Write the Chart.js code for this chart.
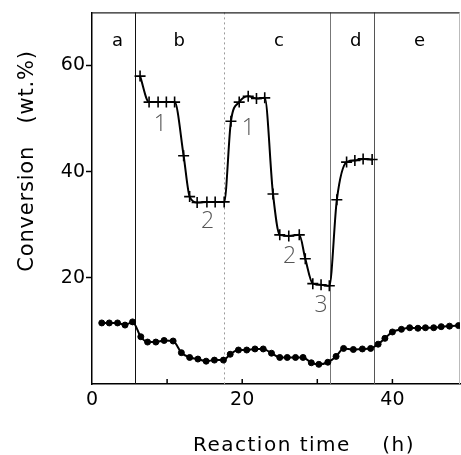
<!DOCTYPE html>
<html>
<head>
<meta charset="utf-8">
<script src="https://cdn.jsdelivr.net/npm/chart.js@4/dist/chart.umd.min.js"></script>
<style>
  html, body { margin: 0; padding: 0; background: #fff; }
  canvas { display: block; }
</style>
</head>
<body>
<canvas id="graf" width="461" height="455"></canvas>
<script>
// upper curve (+ markers): conversion at different stages
const convX = [6.4, 7.6, 8.8, 9.9, 11.0, 12.2, 13.0, 14.0, 15.3, 16.4, 17.6,
               18.5, 19.6, 20.8, 21.9, 23.0, 24.1, 25.0, 26.2, 27.6, 28.4,
               29.4, 30.5, 31.6, 32.6, 33.9, 35.0, 36.1, 37.3];
const convY = [58.0, 53.1, 53.1, 53.1, 53.1, 43.0, 35.3, 34.2, 34.3, 34.3, 34.3,
               49.5, 53.1, 54.2, 53.8, 53.9, 35.8, 28.1, 27.9, 28.1, 23.6,
               18.9, 18.7, 18.5, 34.7, 41.8, 42.1, 42.4, 42.3];

// lower curve (dot markers)
const lowX = [1.3, 2.3, 3.4, 4.4, 5.4, 6.5, 7.4, 8.5, 9.6, 10.8,
              11.9, 13.0, 14.1, 15.2, 16.3, 17.5, 18.4, 19.5, 20.6, 21.7,
              22.8, 23.9, 25.0, 26.0, 27.1, 28.1, 29.2, 30.2, 31.4, 32.5,
              33.5, 34.8, 36.0, 37.1, 38.1, 39.0, 40.0, 41.2, 42.3, 43.4,
              44.4, 45.5, 46.5, 47.6, 48.8];
const lowY = [11.5, 11.5, 11.5, 11.1, 11.7, 8.9, 7.9, 7.9, 8.2, 8.1,
              5.9, 5.0, 4.7, 4.3, 4.5, 4.5, 5.6, 6.4, 6.4, 6.6,
              6.6, 5.8, 5.0, 5.0, 5.0, 5.0, 4.0, 3.7, 4.1, 5.2,
              6.7, 6.5, 6.6, 6.7, 7.5, 8.6, 9.8, 10.3, 10.6, 10.5,
              10.6, 10.6, 10.8, 10.9, 11.0];

// stage boundaries (h) and stage names
const boundaries = [5.7, 17.6, 31.7, 37.6];
const stages = ['a', 'b', 'c', 'd', 'e'];
const stageX = [3.4, 11.6, 24.9, 35.1, 43.6];

// plateau numbers
const plateauTxt = ['1', '2', '1', '2', '3'];
const plateauX = [9.1, 15.4, 20.8, 26.3, 30.5];
const plateauY = [48.9, 30.6, 48.2, 24.0, 14.8];

const xTitle = 'Reaction time    (h)';
const yTitle = 'Conversion   (wt.%)';

const bStyle = [
  { color: '#111', dash: [] },
  { color: '#999', dash: [2, 3] },
  { color: '#777', dash: [] },
  { color: '#555', dash: [] }
];

function line(ctx, x1, y1, x2, y2) {
  ctx.beginPath(); ctx.moveTo(x1, y1); ctx.lineTo(x2, y2); ctx.stroke();
}

const decor = {
  id: 'decor',
  beforeDatasetsDraw(chart) {
    const { ctx, chartArea: a, scales: { x } } = chart;
    ctx.save();
    boundaries.forEach((b, i) => {
      const px = Math.round(x.getPixelForValue(b)) + 0.5;
      ctx.strokeStyle = bStyle[i].color;
      ctx.lineWidth = 1;
      ctx.setLineDash(bStyle[i].dash);
      line(ctx, px, a.top, px, a.bottom);
    });
    ctx.setLineDash([]);
    // frame top / right
    ctx.strokeStyle = '#222';
    ctx.lineWidth = 1.2;
    line(ctx, a.left, a.top + 0.5, a.right, a.top + 0.5);
    ctx.strokeStyle = '#bbb';
    ctx.lineWidth = 1;
    line(ctx, a.right - 0.5, a.top, a.right - 0.5, a.bottom);
    // inward ticks on x axis
    ctx.strokeStyle = '#000';
    ctx.lineWidth = 1.5;
    x.ticks.forEach(t => {
      if (t.value === 0) return;
      const px = x.getPixelForValue(t.value);
      line(ctx, px, a.bottom, px, a.bottom - 5);
    });
    ctx.restore();
  },
  afterDraw(chart) {
    const { ctx, chartArea: a, scales: { x, y } } = chart;
    ctx.save();
    ctx.fillStyle = '#000';
    ctx.textAlign = 'center';
    ctx.textBaseline = 'alphabetic';
    ctx.font = '18px "DejaVu Sans"';
    stages.forEach((s, i) => {
      ctx.fillText(s, x.getPixelForValue(stageX[i]), a.top + 34);
    });
    ctx.fillStyle = '#555';
    ctx.font = '300 23px "Open Sans"';
    ctx.textBaseline = 'middle';
    plateauTxt.forEach((s, i) => {
      ctx.fillText(s, x.getPixelForValue(plateauX[i]), y.getPixelForValue(plateauY[i]));
    });
    // axis titles
    ctx.fillStyle = '#000';
    ctx.textBaseline = 'alphabetic';
    ctx.font = '20px "DejaVu Sans"';
    ctx.letterSpacing = '1.5px';
    ctx.fillText(xTitle, 304, 451);
    ctx.translate(33, 161);
    ctx.rotate(-Math.PI / 2);
    ctx.font = '21px "DejaVu Sans"';
    ctx.letterSpacing = '0.8px';
    ctx.fillText(yTitle, 0, 0);
    ctx.restore();
  }
};

Chart.defaults.font.family = '"DejaVu Sans", sans-serif';
Chart.defaults.color = '#000';

new Chart(document.getElementById('graf'), {
  type: 'line',
  data: {
    datasets: [
      {
        data: convX.map((v, i) => ({ x: v, y: convY[i] })),
        borderColor: '#000', borderWidth: 2,
        pointStyle: 'cross', pointRadius: 5.5, pointBorderWidth: 1.6,
        pointBorderColor: '#000',
        cubicInterpolationMode: 'monotone'
      },
      {
        data: lowX.map((v, i) => ({ x: v, y: lowY[i] })),
        borderColor: '#000', borderWidth: 2,
        pointStyle: 'circle', pointRadius: 3, pointBorderWidth: 1,
        pointBackgroundColor: '#000', pointBorderColor: '#000',
        cubicInterpolationMode: 'monotone'
      }
    ]
  },
  options: {
    responsive: false,
    animation: false,
    layout: { autoPadding: false, padding: { top: 11, right: 1, left: 0, bottom: 0 } },
    plugins: { legend: { display: false }, tooltip: { enabled: false } },
    scales: {
      x: {
        type: 'linear', min: 0, max: 49,
        afterFit: s => { s.height = 71; },
        border: { color: '#000', width: 1.5 },
        grid: { display: true, drawOnChartArea: false, drawTicks: false },
        ticks: {
          stepSize: 10, includeBounds: false, autoSkip: false, maxRotation: 0,
          padding: 5, font: { size: 19 },
          callback: v => (v % 20 === 0 ? v : '')
        }
      },
      y: {
        min: 0, max: 70,
        afterFit: s => { s.width = 92; },
        border: { color: '#000', width: 1.5 },
        grid: {
          drawOnChartArea: false, drawTicks: true, tickLength: 6, tickWidth: 1.5,
          tickColor: c => (c.tick && c.tick.value === 0 ? 'rgba(0,0,0,0)' : '#000')
        },
        ticks: {
          stepSize: 20, includeBounds: false, padding: 1, font: { size: 19 },
          callback: v => (v === 0 ? '' : v)
        }
      }
    }
  },
  plugins: [decor]
});
</script>
</body>
</html>
